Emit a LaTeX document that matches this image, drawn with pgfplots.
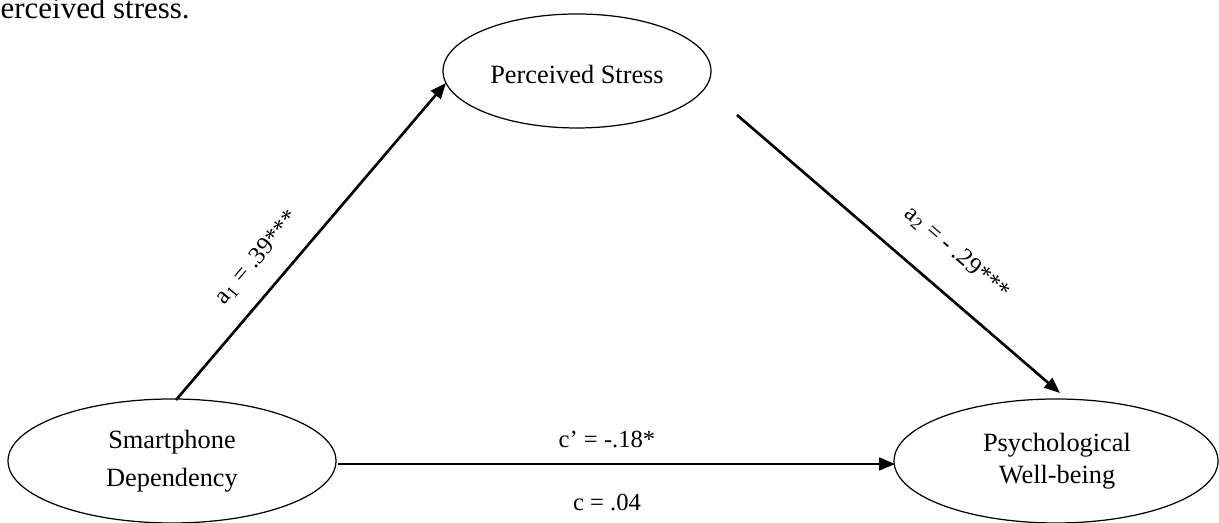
\documentclass[border=0pt]{standalone}
\usepackage{pgfplots}
\pgfplotsset{compat=1.18}
\usepackage{fontspec}
\setmainfont{Liberation Serif}
\usetikzlibrary{arrows.meta}
\begin{document}
\begin{tikzpicture}
\useasboundingbox (0,0) rectangle (12.19cm,5.23cm);
\begin{axis}[
  at={(0,0)}, anchor=south west,
  width=12.19cm, height=5.23cm, scale only axis,
  xmin=0, xmax=1219, ymin=0, ymax=523,
  hide axis, clip=false,
]
% ellipses (latent variables)
\draw[line width=0.35pt] (axis cs:577,452) ellipse [x radius=134, y radius=57];
\draw[line width=0.35pt] (axis cs:172,62) ellipse [x radius=164, y radius=62];
\draw[line width=0.35pt] (axis cs:1056,62) ellipse [x radius=162, y radius=62];
% paths
\addplot[black, line width=0.75pt, -{Triangle[length=4.5pt,width=3.6pt]}] coordinates {(176,123) (446,440)};
\addplot[black, line width=0.75pt, -{Triangle[length=4.5pt,width=3.6pt]}] coordinates {(737,408) (1060,130)};
\addplot[black, line width=0.75pt, -{Triangle[length=4.5pt,width=3.6pt]}] coordinates {(338,59) (895,59)};
% texts
\node[anchor=base west, inner sep=0pt, font=\fontsize{8.8}{10}\selectfont] at (axis cs:0,504) {erceived stress.};
\node[font=\fontsize{7.5}{9}\selectfont] at (axis cs:577,448) {Perceived Stress};
\node[align=center, font=\fontsize{7.5}{10.8}\selectfont] at (axis cs:172,62) {Smartphone\\Dependency};
\node[align=center, font=\fontsize{7.5}{9}\selectfont] at (axis cs:1057,62) {Psychological\\Well-being};
\node[rotate=49.5, font=\fontsize{7}{8}\selectfont] at (axis cs:257,265) {a\textsubscript{1} = .39***};
\node[rotate=-40.7, font=\fontsize{7}{8}\selectfont] at (axis cs:957,270) {a\textsubscript{2} = - .29***};
\node[font=\fontsize{7}{8}\selectfont] at (axis cs:607,83) {c’ = -.18*};
\node[font=\fontsize{7}{8}\selectfont] at (axis cs:607,20) {c = .04};
\end{axis}
\end{tikzpicture}
\end{document}
